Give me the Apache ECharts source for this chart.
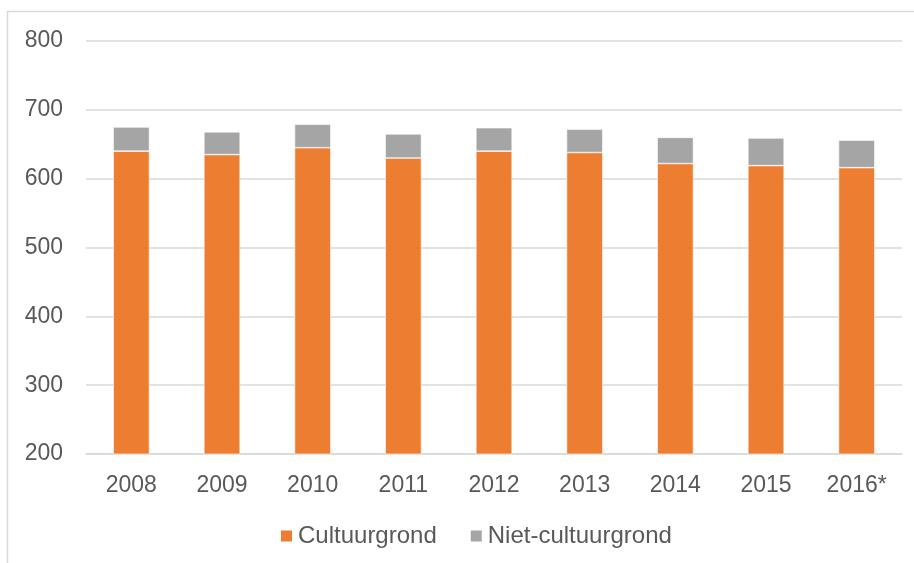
<!DOCTYPE html>
<html>
<head>
<meta charset="utf-8">
<script src="https://cdn.jsdelivr.net/npm/echarts@6/dist/echarts.min.js"></script>
<style>
html,body{margin:0;padding:0;background:#fff;}
#chart{width:914px;height:563px;}
</style>
</head>
<body>
<div id="chart"></div>
<script>
const categories = ['2008','2009','2010','2011','2012','2013','2014','2015','2016*'];
const cultuurgrond = [640, 635, 645, 630, 640, 638, 622, 619, 616];
const nietCultuurgrond = [35, 33, 34, 35, 34, 34, 38, 40, 40];
const yTicks = { min: 200, max: 800, interval: 100 };

const chart = echarts.init(document.getElementById('chart'));
const textColor = '#595959';
const font = 'Liberation Sans, Arial, sans-serif';
chart.setOption({
  animation: false,
  backgroundColor: '#fff',
  graphic: [{
    type: 'rect',
    shape: { x: 7.5, y: 11.5, width: 920, height: 570 },
    style: { fill: 'none', stroke: '#D9D9D9', lineWidth: 1.5 },
    silent: true
  }],
  grid: { left: 86, right: 12, top: 41, bottom: 109, containLabel: false },
  legend: {
    bottom: 15,
    left: 279,
    itemWidth: 13,
    itemHeight: 13,
    itemGap: 32,
    padding: 0,
    icon: 'rect',
    textStyle: { color: textColor, fontSize: 24, fontFamily: font },
    data: ['Cultuurgrond', 'Niet-cultuurgrond']
  },
  xAxis: {
    type: 'category',
    data: categories,
    axisLine: { lineStyle: { color: '#D9D9D9', width: 1.5 } },
    axisTick: { show: false },
    axisLabel: { color: textColor, fontSize: 23, fontFamily: font, margin: 20 }
  },
  yAxis: {
    type: 'value',
    min: yTicks.min, max: yTicks.max, interval: yTicks.interval,
    axisLine: { show: false },
    axisTick: { show: false },
    splitLine: { lineStyle: { color: '#D9D9D9', width: 1.5 } },
    axisLabel: { color: textColor, fontSize: 23, fontFamily: font, margin: 23 }
  },
  series: [
    {
      name: 'Cultuurgrond', type: 'bar', stack: 'total',
      data: cultuurgrond, barWidth: '40%',
      itemStyle: { color: '#ED7D31', borderColor: '#fff', borderWidth: 0.6 }
    },
    {
      name: 'Niet-cultuurgrond', type: 'bar', stack: 'total',
      data: nietCultuurgrond, barWidth: '40%',
      itemStyle: { color: '#A5A5A5', borderColor: '#fff', borderWidth: 0.6 }
    }
  ]
});
</script>
</body>
</html>
